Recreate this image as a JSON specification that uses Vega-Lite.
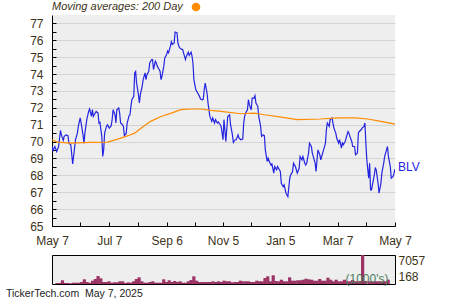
{
"$schema": "https://vega.github.io/schema/vega-lite/v6.json",
"background": "white",
"padding": {"left": 5, "top": 2, "right": 5, "bottom": 2},
"spacing": 7,
"config": {"font": "Liberation Sans"},
"datasets": {
"price": [
{"d":"2024-05-07","p":69.71},{"d":"2024-05-08","p":69.47},{"d":"2024-05-10","p":69.71},{"d":"2024-05-12","p":69.41},{"d":"2024-05-14","p":69.71},{"d":"2024-05-16","p":70.66},{"d":"2024-05-17","p":70.40},{"d":"2024-05-19","p":70.07},{"d":"2024-05-20","p":70.31},{"d":"2024-05-22","p":70.40},{"d":"2024-05-24","p":70.35},{"d":"2024-05-25","p":69.91},{"d":"2024-05-27","p":69.81},{"d":"2024-05-29","p":68.68},{"d":"2024-05-30","p":69.12},
{"d":"2024-06-01","p":70.11},{"d":"2024-06-03","p":70.50},{"d":"2024-06-04","p":70.90},{"d":"2024-06-06","p":71.40},{"d":"2024-06-07","p":71.10},{"d":"2024-06-09","p":70.40},{"d":"2024-06-10","p":69.91},{"d":"2024-06-11","p":70.50},{"d":"2024-06-13","p":71.30},{"d":"2024-06-15","p":71.79},{"d":"2024-06-16","p":71.93},{"d":"2024-06-18","p":71.49},{"d":"2024-06-19","p":71.89},{"d":"2024-06-20","p":71.49},{"d":"2024-06-22","p":71.69},{"d":"2024-06-23","p":71.79},{"d":"2024-06-25","p":71.69},{"d":"2024-06-26","p":71.10},{"d":"2024-06-27","p":71.14},{"d":"2024-06-29","p":70.31},{"d":"2024-06-30","p":69.12},
{"d":"2024-07-01","p":69.51},{"d":"2024-07-02","p":70.50},{"d":"2024-07-04","p":70.90},{"d":"2024-07-05","p":71.00},{"d":"2024-07-07","p":70.80},{"d":"2024-07-09","p":70.94},{"d":"2024-07-10","p":71.30},{"d":"2024-07-11","p":71.89},{"d":"2024-07-13","p":71.59},{"d":"2024-07-14","p":71.10},{"d":"2024-07-15","p":71.89},{"d":"2024-07-17","p":71.99},{"d":"2024-07-18","p":71.69},{"d":"2024-07-19","p":71.10},{"d":"2024-07-21","p":71.00},{"d":"2024-07-22","p":70.90},{"d":"2024-07-23","p":70.35},{"d":"2024-07-25","p":70.50},{"d":"2024-07-26","p":71.10},{"d":"2024-07-28","p":71.53},{"d":"2024-07-29","p":71.59},{"d":"2024-07-30","p":72.09},{"d":"2024-07-31","p":72.48},
{"d":"2024-08-02","p":72.68},{"d":"2024-08-03","p":74.07},{"d":"2024-08-04","p":74.15},{"d":"2024-08-05","p":73.47},{"d":"2024-08-07","p":72.78},{"d":"2024-08-08","p":72.29},{"d":"2024-08-09","p":72.78},{"d":"2024-08-11","p":73.28},{"d":"2024-08-12","p":73.67},{"d":"2024-08-14","p":74.07},{"d":"2024-08-15","p":73.67},{"d":"2024-08-16","p":73.97},{"d":"2024-08-18","p":74.17},{"d":"2024-08-19","p":74.66},{"d":"2024-08-21","p":74.86},{"d":"2024-08-22","p":74.86},{"d":"2024-08-23","p":74.27},{"d":"2024-08-25","p":74.76},{"d":"2024-08-26","p":74.66},{"d":"2024-08-27","p":74.47},{"d":"2024-08-29","p":74.27},{"d":"2024-08-30","p":74.17},{"d":"2024-08-31","p":73.67},
{"d":"2024-09-01","p":73.87},{"d":"2024-09-03","p":74.47},{"d":"2024-09-04","p":74.96},{"d":"2024-09-06","p":75.16},{"d":"2024-09-07","p":75.36},{"d":"2024-09-08","p":75.26},{"d":"2024-09-10","p":75.65},{"d":"2024-09-11","p":75.91},{"d":"2024-09-12","p":75.75},{"d":"2024-09-14","p":75.85},{"d":"2024-09-15","p":76.49},{"d":"2024-09-17","p":76.45},{"d":"2024-09-18","p":75.85},{"d":"2024-09-19","p":75.65},{"d":"2024-09-20","p":75.55},{"d":"2024-09-22","p":75.46},{"d":"2024-09-23","p":75.46},{"d":"2024-09-24","p":75.26},{"d":"2024-09-26","p":74.86},{"d":"2024-09-27","p":75.06},{"d":"2024-09-29","p":75.30},{"d":"2024-09-30","p":75.10},
{"d":"2024-10-02","p":75.30},{"d":"2024-10-03","p":75.06},{"d":"2024-10-04","p":74.66},{"d":"2024-10-05","p":73.67},{"d":"2024-10-07","p":73.08},{"d":"2024-10-08","p":72.98},{"d":"2024-10-09","p":72.88},{"d":"2024-10-11","p":72.68},{"d":"2024-10-12","p":72.52},{"d":"2024-10-14","p":72.48},{"d":"2024-10-15","p":72.52},{"d":"2024-10-16","p":73.08},{"d":"2024-10-17","p":73.47},{"d":"2024-10-19","p":72.88},{"d":"2024-10-20","p":72.29},{"d":"2024-10-21","p":71.89},{"d":"2024-10-22","p":71.49},{"d":"2024-10-24","p":71.20},{"d":"2024-10-25","p":71.40},{"d":"2024-10-27","p":71.10},{"d":"2024-10-28","p":71.30},{"d":"2024-10-30","p":71.10},{"d":"2024-10-31","p":71.16},
{"d":"2024-11-02","p":71.00},{"d":"2024-11-03","p":70.90},{"d":"2024-11-05","p":70.11},{"d":"2024-11-06","p":71.30},{"d":"2024-11-08","p":70.01},{"d":"2024-11-10","p":71.49},{"d":"2024-11-12","p":71.59},{"d":"2024-11-13","p":71.00},{"d":"2024-11-15","p":70.40},{"d":"2024-11-16","p":69.95},{"d":"2024-11-18","p":70.11},{"d":"2024-11-19","p":70.11},{"d":"2024-11-21","p":70.40},{"d":"2024-11-22","p":70.21},{"d":"2024-11-24","p":70.11},{"d":"2024-11-26","p":70.15},{"d":"2024-11-27","p":71.10},{"d":"2024-11-28","p":71.49},{"d":"2024-11-29","p":71.69},
{"d":"2024-12-01","p":71.89},{"d":"2024-12-02","p":72.48},{"d":"2024-12-03","p":72.19},{"d":"2024-12-05","p":71.89},{"d":"2024-12-06","p":72.58},{"d":"2024-12-08","p":72.58},{"d":"2024-12-09","p":72.72},{"d":"2024-12-10","p":72.29},{"d":"2024-12-12","p":72.09},{"d":"2024-12-13","p":71.49},{"d":"2024-12-15","p":70.90},{"d":"2024-12-16","p":70.31},{"d":"2024-12-18","p":70.40},{"d":"2024-12-19","p":70.35},{"d":"2024-12-20","p":69.51},{"d":"2024-12-22","p":68.82},{"d":"2024-12-23","p":69.02},{"d":"2024-12-25","p":68.72},{"d":"2024-12-26","p":68.62},{"d":"2024-12-27","p":68.68},{"d":"2024-12-29","p":68.13},{"d":"2024-12-30","p":68.52},
{"d":"2025-01-01","p":68.33},{"d":"2025-01-02","p":68.52},{"d":"2025-01-04","p":68.33},{"d":"2025-01-05","p":68.23},{"d":"2025-01-06","p":67.53},{"d":"2025-01-08","p":67.33},{"d":"2025-01-09","p":67.43},{"d":"2025-01-11","p":66.94},{"d":"2025-01-12","p":66.84},{"d":"2025-01-13","p":66.74},{"d":"2025-01-15","p":67.83},{"d":"2025-01-16","p":68.03},{"d":"2025-01-18","p":68.23},{"d":"2025-01-19","p":68.72},{"d":"2025-01-21","p":68.52},{"d":"2025-01-22","p":68.33},{"d":"2025-01-23","p":68.13},{"d":"2025-01-25","p":68.42},{"d":"2025-01-26","p":69.12},{"d":"2025-01-28","p":68.92},{"d":"2025-01-29","p":69.12},{"d":"2025-01-31","p":68.72},
{"d":"2025-02-01","p":68.62},{"d":"2025-02-02","p":68.72},{"d":"2025-02-04","p":69.32},{"d":"2025-02-05","p":69.91},{"d":"2025-02-07","p":69.71},{"d":"2025-02-08","p":69.32},{"d":"2025-02-09","p":69.12},{"d":"2025-02-11","p":68.72},{"d":"2025-02-12","p":68.23},{"d":"2025-02-13","p":68.92},{"d":"2025-02-14","p":69.51},{"d":"2025-02-16","p":69.22},{"d":"2025-02-17","p":68.92},{"d":"2025-02-19","p":69.32},{"d":"2025-02-20","p":69.51},{"d":"2025-02-22","p":69.91},{"d":"2025-02-23","p":70.70},{"d":"2025-02-24","p":71.10},{"d":"2025-02-26","p":70.90},{"d":"2025-02-27","p":71.30},
{"d":"2025-03-01","p":71.40},{"d":"2025-03-02","p":71.10},{"d":"2025-03-03","p":70.80},{"d":"2025-03-05","p":70.50},{"d":"2025-03-06","p":70.21},{"d":"2025-03-08","p":69.91},{"d":"2025-03-09","p":70.11},{"d":"2025-03-11","p":69.61},{"d":"2025-03-12","p":69.91},{"d":"2025-03-13","p":69.81},{"d":"2025-03-15","p":70.01},{"d":"2025-03-16","p":70.21},{"d":"2025-03-18","p":70.60},{"d":"2025-03-19","p":70.50},{"d":"2025-03-20","p":70.31},{"d":"2025-03-22","p":70.01},{"d":"2025-03-23","p":69.71},{"d":"2025-03-25","p":69.71},{"d":"2025-03-26","p":69.22},{"d":"2025-03-28","p":69.32},{"d":"2025-03-29","p":70.50},{"d":"2025-03-30","p":70.60},
{"d":"2025-04-01","p":70.70},{"d":"2025-04-02","p":70.80},{"d":"2025-04-04","p":70.90},{"d":"2025-04-05","p":71.10},{"d":"2025-04-06","p":69.91},{"d":"2025-04-07","p":68.92},{"d":"2025-04-09","p":67.83},{"d":"2025-04-10","p":68.72},{"d":"2025-04-11","p":67.14},{"d":"2025-04-12","p":67.14},{"d":"2025-04-14","p":67.73},{"d":"2025-04-15","p":68.03},{"d":"2025-04-16","p":68.42},{"d":"2025-04-17","p":68.33},{"d":"2025-04-19","p":67.53},{"d":"2025-04-20","p":66.94},{"d":"2025-04-22","p":67.53},{"d":"2025-04-23","p":68.13},{"d":"2025-04-25","p":68.72},{"d":"2025-04-26","p":69.12},{"d":"2025-04-27","p":69.32},{"d":"2025-04-29","p":69.71},{"d":"2025-04-30","p":69.12},
{"d":"2025-05-02","p":68.52},{"d":"2025-05-03","p":67.83},{"d":"2025-05-05","p":67.93},{"d":"2025-05-06","p":68.13},{"d":"2025-05-07","p":68.37}
],
"ma": [
{"d":"2024-05-07","m":70.11},{"d":"2024-05-13","m":69.97},{"d":"2024-05-27","m":69.91},{"d":"2024-06-17","m":69.95},{"d":"2024-07-05","m":69.97},{"d":"2024-07-16","m":70.15},{"d":"2024-07-27","m":70.35},{"d":"2024-08-03","m":70.50},{"d":"2024-08-10","m":70.80},{"d":"2024-08-20","m":71.20},{"d":"2024-08-31","m":71.49},{"d":"2024-09-11","m":71.69},{"d":"2024-09-21","m":71.89},{"d":"2024-10-02","m":71.93},{"d":"2024-10-13","m":71.93},{"d":"2024-10-23","m":71.85},{"d":"2024-11-03","m":71.79},{"d":"2024-11-24","m":71.65},{"d":"2024-12-08","m":71.69},{"d":"2024-12-19","m":71.59},{"d":"2025-01-06","m":71.45},{"d":"2025-01-23","m":71.30},{"d":"2025-02-17","m":71.34},{"d":"2025-03-07","m":71.40},{"d":"2025-03-26","m":71.40},{"d":"2025-04-08","m":71.34},{"d":"2025-04-22","m":71.20},{"d":"2025-05-07","m":71.04}
],
"vol": [
{"d":"2024-05-07","v":243},{"d":"2024-05-10","v":243},{"d":"2024-05-13","v":899},{"d":"2024-05-16","v":243},{"d":"2024-05-19","v":243},{"d":"2024-05-22","v":170},{"d":"2024-05-25","v":316},{"d":"2024-05-28","v":316},{"d":"2024-05-31","v":316},{"d":"2024-06-03","v":486},{"d":"2024-06-06","v":1142},{"d":"2024-06-09","v":486},{"d":"2024-06-12","v":316},{"d":"2024-06-15","v":802},{"d":"2024-06-18","v":1215},{"d":"2024-06-21","v":1944},{"d":"2024-06-24","v":1385},{"d":"2024-06-27","v":486},{"d":"2024-06-30","v":486},
{"d":"2024-07-03","v":656},{"d":"2024-07-06","v":316},{"d":"2024-07-09","v":413},{"d":"2024-07-12","v":413},{"d":"2024-07-15","v":656},{"d":"2024-07-18","v":656},{"d":"2024-07-21","v":243},{"d":"2024-07-24","v":413},{"d":"2024-07-27","v":316},{"d":"2024-07-30","v":656},{"d":"2024-08-02","v":1215},{"d":"2024-08-05","v":1628},{"d":"2024-08-08","v":656},{"d":"2024-08-11","v":316},{"d":"2024-08-14","v":316},{"d":"2024-08-17","v":486},{"d":"2024-08-20","v":656},{"d":"2024-08-23","v":316},{"d":"2024-08-26","v":316},{"d":"2024-08-29","v":316},
{"d":"2024-09-01","v":1142},{"d":"2024-09-04","v":486},{"d":"2024-09-07","v":899},{"d":"2024-09-10","v":486},{"d":"2024-09-13","v":729},{"d":"2024-09-16","v":486},{"d":"2024-09-19","v":656},{"d":"2024-09-22","v":316},{"d":"2024-09-25","v":316},{"d":"2024-09-28","v":656},{"d":"2024-10-01","v":972},{"d":"2024-10-04","v":1871},{"d":"2024-10-07","v":802},{"d":"2024-10-10","v":486},{"d":"2024-10-13","v":486},{"d":"2024-10-16","v":486},{"d":"2024-10-19","v":486},{"d":"2024-10-22","v":486},{"d":"2024-10-25","v":656},{"d":"2024-10-28","v":486},{"d":"2024-10-31","v":656},
{"d":"2024-11-03","v":486},{"d":"2024-11-06","v":802},{"d":"2024-11-09","v":656},{"d":"2024-11-12","v":656},{"d":"2024-11-15","v":413},{"d":"2024-11-18","v":486},{"d":"2024-11-21","v":486},{"d":"2024-11-24","v":802},{"d":"2024-11-27","v":656},{"d":"2024-11-30","v":656},{"d":"2024-12-03","v":656},{"d":"2024-12-06","v":486},{"d":"2024-12-09","v":486},{"d":"2024-12-12","v":802},{"d":"2024-12-15","v":656},{"d":"2024-12-18","v":656},{"d":"2024-12-21","v":1458},{"d":"2024-12-24","v":1871},{"d":"2024-12-27","v":656},{"d":"2024-12-30","v":2114},
{"d":"2025-01-02","v":729},{"d":"2025-01-05","v":656},{"d":"2025-01-08","v":1045},{"d":"2025-01-11","v":656},{"d":"2025-01-14","v":656},{"d":"2025-01-17","v":1628},{"d":"2025-01-20","v":802},{"d":"2025-01-23","v":802},{"d":"2025-01-26","v":899},{"d":"2025-01-29","v":899},{"d":"2025-02-01","v":1045},{"d":"2025-02-04","v":1288},{"d":"2025-02-07","v":1142},{"d":"2025-02-10","v":1045},{"d":"2025-02-13","v":802},{"d":"2025-02-16","v":802},{"d":"2025-02-19","v":1215},{"d":"2025-02-22","v":802},{"d":"2025-02-25","v":802},{"d":"2025-02-28","v":1531},
{"d":"2025-03-03","v":1045},{"d":"2025-03-06","v":656},{"d":"2025-03-09","v":1045},{"d":"2025-03-12","v":656},{"d":"2025-03-15","v":656},{"d":"2025-03-18","v":1045},{"d":"2025-03-21","v":656},{"d":"2025-03-24","v":656},{"d":"2025-03-27","v":972},{"d":"2025-03-30","v":656},{"d":"2025-04-02","v":656},{"d":"2025-04-05","v":729},{"d":"2025-04-07","v":7057},{"d":"2025-04-10","v":729},{"d":"2025-04-14","v":656},{"d":"2025-04-17","v":656},{"d":"2025-04-20","v":656},{"d":"2025-04-23","v":656},{"d":"2025-04-26","v":656},{"d":"2025-04-29","v":656},{"d":"2025-05-02","v":656},{"d":"2025-05-05","v":1045}
]
},
"vconcat": [
{
"width": 343, "height": 211,
"view": {"fill": "#eeeeee", "stroke": null},
"layer": [
{
"data": {"name": "price"},
"mark": {"type": "line", "color": "#2424e0", "strokeWidth": 1.2, "clip": true},
"encoding": {
"x": {"field": "d", "type": "temporal",
"scale": {"type": "utc", "domain": [{"year": 2024, "month": 5, "date": 7, "utc": true}, {"year": 2025, "month": 5, "date": 7, "utc": true}]},
"axis": {"title": null, "format": "%b %-d", "tickCount": 100,
"values": [{"year":2024,"month":5,"date":7,"utc":true},{"year":2024,"month":6,"date":6,"utc":true},{"year":2024,"month":7,"date":7,"utc":true},{"year":2024,"month":8,"date":6,"utc":true},{"year":2024,"month":9,"date":6,"utc":true},{"year":2024,"month":10,"date":6,"utc":true},{"year":2024,"month":11,"date":5,"utc":true},{"year":2024,"month":12,"date":5,"utc":true},{"year":2025,"month":1,"date":5,"utc":true},{"year":2025,"month":2,"date":4,"utc":true},{"year":2025,"month":3,"date":7,"utc":true},{"year":2025,"month":4,"date":6,"utc":true},{"year":2025,"month":5,"date":7,"utc":true}],
"labelExpr": "indexof(['May 7','Jul 7','Sep 6','Nov 5','Jan 5','Mar 7'], datum.label) >= 0 ? datum.label : ''",
"labelOverlap": false, "labelFlush": false,
"tickSize": -4, "tickColor": "#000000", "labelPadding": 13,
"domainColor": "#000000", "labelFontSize": 12, "labelColor": "#3d3319",
"grid": true, "gridColor": "#d4d4d4",
"gridOpacity": {"condition": {"test": "indexof(['May 7','Jul 7','Sep 6','Nov 5','Jan 5','Mar 7'], datum.label) < 0", "value": 0}, "value": 1}
}
},
"y": {"field": "p", "type": "quantitative",
"scale": {"domain": [65, 77.5], "nice": false, "zero": false},
"axis": {"title": null, "tickCount": 100,
"values": [65,65.5,66,66.5,67,67.5,68,68.5,69,69.5,70,70.5,71,71.5,72,72.5,73,73.5,74,74.5,75,75.5,76,76.5,77],
"labelExpr": "datum.value % 1 === 0 ? format(datum.value, 'd') : ''",
"labelOverlap": false,
"tickSize": -4, "tickColor": "#000000", "labelPadding": 13,
"domainColor": "#000000", "labelFontSize": 12, "labelColor": "#3d3319",
"grid": true, "gridColor": "#d4d4d4",
"gridOpacity": {"condition": {"test": "datum.value % 1 !== 0", "value": 0}, "value": 1}
}
}
}
},
{
"data": {"name": "ma"},
"mark": {"type": "line", "strokeWidth": 1.2, "clip": true},
"encoding": {
"x": {"field": "d", "type": "temporal"},
"y": {"field": "m", "type": "quantitative"},
"color": {"datum": "200 Day", "type": "nominal", "scale": {"range": ["#ff8c00"]},
"legend": {"orient": "top", "title": "Moving averages: 200 Day", "titleOrient": "left",
"titleFontStyle": "italic", "titleFontWeight": "normal", "titleFontSize": 11, "titleColor": "#3d3319",
"titlePadding": 8, "labelExpr": "''", "offset": 3, "padding": 0,
"encode": {"symbols": {"update": {"fill": {"value": "#ff8c00"}, "stroke": {"value": "#ff8c00"}, "strokeWidth": {"value": 0}, "shape": {"value": "circle"}, "size": {"value": 75}}}}
}
}
}
},
{
"data": {"name": "price"},
"transform": [{"filter": "time(datum.d) > utc(2025, 4, 6, 12)"}],
"mark": {"type": "text", "text": "BLV", "align": "left", "baseline": "middle", "dx": 3, "dy": -2, "color": "#2424e0", "fontSize": 12},
"encoding": {
"x": {"field": "d", "type": "temporal"},
"y": {"field": "p", "type": "quantitative"}
}
}
]
},
{
"width": 343, "height": 29,
"view": {"fill": "#eeeeee", "stroke": "#000000", "strokeWidth": 1},
"title": {"text": "TickerTech.com\u00a0\u00a0May 7, 2025", "orient": "bottom", "anchor": "start", "fontSize": 10.5, "fontWeight": "normal", "color": "#222222", "dx": -46, "offset": 4},
"layer": [
{
"data": {"name": "vol"},
"mark": {"type": "bar", "color": "#9b3365", "size": 3.2, "clip": true},
"encoding": {
"x": {"field": "d", "type": "temporal",
"scale": {"type": "utc", "domain": [{"year": 2024, "month": 5, "date": 7, "utc": true}, {"year": 2025, "month": 5, "date": 7, "utc": true}]},
"axis": null},
"y": {"field": "v", "type": "quantitative",
"scale": {"domain": [0, 7057], "nice": false},
"axis": {"title": null, "orient": "right", "values": [168, 7057], "format": "d", "labelFlush": true,
"domain": false, "ticks": false, "grid": false, "labelPadding": 3, "labelFontSize": 12, "labelColor": "#3d3319"}}
}
},
{
"data": {"values": [{}]},
"mark": {"type": "text", "text": "(1000's)", "align": "right", "baseline": "middle", "dx": -1.5, "dy": -5, "color": "#4a7d5a", "fontSize": 12},
"encoding": {
"x": {"datum": {"year": 2025, "month": 5, "date": 7, "utc": true}, "type": "temporal"},
"y": {"datum": 0, "type": "quantitative"}
}
}
]
}
]
}
